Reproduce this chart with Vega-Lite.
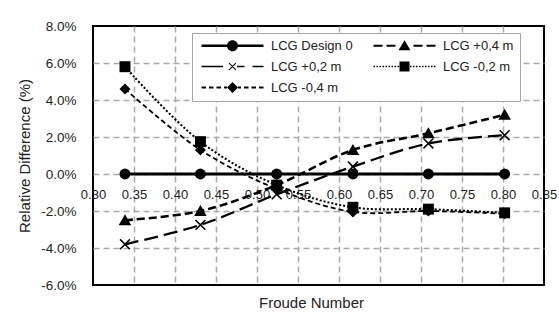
{
  "$schema": "https://vega.github.io/schema/vega-lite/v6.json",
  "width": 451,
  "height": 259,
  "autosize": "none",
  "padding": {"left": 93, "top": 26, "right": 15, "bottom": 35},
  "background": "white",
  "config": {
    "view": {"stroke": "black", "strokeWidth": 2},
    "font": "Liberation Sans"
  },
  "data": {
    "values": [
      {"fr": 0.339, "rd": 0, "series": "LCG Design 0"},
      {"fr": 0.431, "rd": 0, "series": "LCG Design 0"},
      {"fr": 0.524, "rd": 0, "series": "LCG Design 0"},
      {"fr": 0.617, "rd": 0, "series": "LCG Design 0"},
      {"fr": 0.709, "rd": 0, "series": "LCG Design 0"},
      {"fr": 0.802, "rd": 0, "series": "LCG Design 0"},
      {"fr": 0.339, "rd": -2.5, "series": "LCG +0,4 m"},
      {"fr": 0.431, "rd": -2.0, "series": "LCG +0,4 m"},
      {"fr": 0.524, "rd": -0.6, "series": "LCG +0,4 m"},
      {"fr": 0.617, "rd": 1.3, "series": "LCG +0,4 m"},
      {"fr": 0.709, "rd": 2.2, "series": "LCG +0,4 m"},
      {"fr": 0.802, "rd": 3.2, "series": "LCG +0,4 m"},
      {"fr": 0.339, "rd": -3.8, "series": "LCG +0,2 m"},
      {"fr": 0.431, "rd": -2.75, "series": "LCG +0,2 m"},
      {"fr": 0.524, "rd": -1.1, "series": "LCG +0,2 m"},
      {"fr": 0.617, "rd": 0.4, "series": "LCG +0,2 m"},
      {"fr": 0.709, "rd": 1.65, "series": "LCG +0,2 m"},
      {"fr": 0.802, "rd": 2.1, "series": "LCG +0,2 m"},
      {"fr": 0.339, "rd": 5.8, "series": "LCG -0,2 m"},
      {"fr": 0.431, "rd": 1.75, "series": "LCG -0,2 m"},
      {"fr": 0.524, "rd": -0.6, "series": "LCG -0,2 m"},
      {"fr": 0.617, "rd": -1.8, "series": "LCG -0,2 m"},
      {"fr": 0.709, "rd": -1.9, "series": "LCG -0,2 m"},
      {"fr": 0.802, "rd": -2.1, "series": "LCG -0,2 m"},
      {"fr": 0.339, "rd": 4.6, "series": "LCG -0,4 m"},
      {"fr": 0.431, "rd": 1.3, "series": "LCG -0,4 m"},
      {"fr": 0.524, "rd": -0.8, "series": "LCG -0,4 m"},
      {"fr": 0.617, "rd": -2.05, "series": "LCG -0,4 m"},
      {"fr": 0.709, "rd": -2.0, "series": "LCG -0,4 m"},
      {"fr": 0.802, "rd": -2.15, "series": "LCG -0,4 m"}
    ]
  },
  "encoding": {
    "x": {
      "field": "fr", "type": "quantitative",
      "scale": {"domain": [0.3, 0.85], "nice": false, "zero": false},
      "axis": {
        "values": [0.3, 0.35, 0.4, 0.45, 0.5, 0.55, 0.6, 0.65, 0.7, 0.75, 0.8, 0.85],
        "format": ".2f",
        "offset": -111,
        "domain": false,
        "ticks": false,
        "labelPadding": 14,
        "labelFlush": false,
        "labelFontSize": 13,
        "labelColor": "#222",
        "grid": true,
        "gridColor": "#aaaaaa",
        "gridDash": [6, 4],
        "gridWidth": 1.5,
        "gridOpacity": {"condition": {"test": "datum.value < 0.31 || datum.value > 0.84", "value": 0}, "value": 1},
        "title": "Froude Number",
        "titleFontSize": 15,
        "titleFontWeight": "normal",
        "titleColor": "#222",
        "titleX": 218,
        "titleY": 128,
        "titleBaseline": "middle"
      }
    },
    "y": {
      "field": "rd", "type": "quantitative",
      "scale": {"domain": [-6, 8], "nice": false},
      "axis": {
        "values": [-6, -4, -2, 0, 2, 4, 6, 8],
        "labelExpr": "(datum.value < 0 ? '-' : '') + format(abs(datum.value), '.1f') + '%'",
        "domain": false,
        "ticks": false,
        "labelPadding": 17,
        "labelFontSize": 13.5,
        "labelColor": "#222",
        "grid": true,
        "gridColor": "#aaaaaa",
        "gridDash": [6, 4],
        "gridWidth": 1.5,
        "gridOpacity": {"condition": {"test": "datum.value < -5.9 || datum.value > 7.9", "value": 0}, "value": 1},
        "title": "Relative Difference (%)",
        "titleFontSize": 15,
        "titleFontWeight": "normal",
        "titleColor": "#222",
        "titlePadding": 8
      }
    }
  },
  "layer": [
    {
      "mark": {"type": "line", "interpolate": "catmull-rom", "color": "black"},
      "encoding": {
        "detail": {"field": "series"},
        "strokeDash": {
          "field": "series", "type": "nominal",
          "scale": {
            "domain": ["LCG Design 0", "LCG +0,4 m", "LCG +0,2 m", "LCG -0,2 m", "LCG -0,4 m"],
            "range": [[1, 0], [8, 4], [14, 6], [2, 2], [5, 3]]
          },
          "legend": null
        },
        "strokeWidth": {
          "field": "series", "type": "nominal",
          "scale": {
            "domain": ["LCG Design 0", "LCG +0,4 m", "LCG +0,2 m", "LCG -0,2 m", "LCG -0,4 m"],
            "range": [2.8, 1.8, 1.6, 1.6, 1.8]
          },
          "legend": null
        }
      }
    },
    {
      "mark": {"type": "point", "filled": true, "color": "black", "opacity": 1, "size": 120},
      "encoding": {
        "shape": {
          "field": "series", "type": "nominal",
          "scale": {
            "domain": ["LCG Design 0", "LCG +0,4 m", "LCG +0,2 m", "LCG -0,2 m", "LCG -0,4 m"],
            "range": [
              "circle",
              "M0,-1.1L1.15,0.9L-1.15,0.9Z",
              "M-1,-0.8L-0.8,-1L1,0.8L0.8,1ZM-1,0.8L0.8,-1L1,-0.8L-0.8,1Z",
              "square",
              "diamond"
            ]
          },
          "legend": null
        }
      }
    },
    {
      "mark": {"type": "point", "filled": true, "color": "black", "opacity": 0, "size": 100},
      "encoding": {
        "shape": {
          "field": "series", "type": "nominal",
          "scale": {
            "domain": ["LCG Design 0", "LCG +0,2 m", "LCG -0,4 m", "LCG +0,4 m", "LCG -0,2 m"],
            "range": [
              "M-6.2,-0.25H-1V0.25H-6.2ZM1,-0.25H6.2V0.25H1ZM-1.1,0A1.1,1.1,0,1,1,1.1,0A1.1,1.1,0,1,1,-1.1,0Z",
              "M-6.2,-0.15H-1.9V0.15H-6.2ZM0.9,-0.15H2.4V0.15H0.9ZM4,-0.15H6.2V0.15H4ZM-0.75,-0.6L-0.6,-0.75L0.75,0.6L0.6,0.75ZM-0.75,0.6L0.6,-0.75L0.75,-0.6L-0.6,0.75Z",
              "M-6.2,-0.2H-5.3V0.2H-6.2ZM-4.7,-0.2H-3.8V0.2H-4.7ZM-3.2,-0.2H-2.3V0.2H-3.2ZM-1.7,-0.2H-1.1V0.2H-1.7ZM1.1,-0.2H1.7V0.2H1.1ZM2.3,-0.2H3.2V0.2H2.3ZM3.8,-0.2H4.7V0.2H3.8ZM5.3,-0.2H6.2V0.2H5.3ZM0,-1.1L1.1,0L0,1.1L-1.1,0Z",
              "M-6.2,-0.2H-4.4V0.2H-6.2ZM-3.6,-0.2H-1.8V0.2H-3.6ZM1.8,-0.2H3.6V0.2H1.8ZM4.4,-0.2H6.2V0.2H4.4ZM0,-1.1L1.2,0.9L-1.2,0.9Z",
              "M-6.2,-0.13H-5.9V0.13H-6.2ZM-5.6,-0.13H-5.3V0.13H-5.6ZM-5,-0.13H-4.7V0.13H-5ZM-4.4,-0.13H-4.1V0.13H-4.4ZM-3.8,-0.13H-3.5V0.13H-3.8ZM-3.2,-0.13H-2.9V0.13H-3.2ZM-2.6,-0.13H-2.3V0.13H-2.6ZM-2,-0.13H-1.7V0.13H-2ZM-1.4,-0.13H-1.1V0.13H-1.4ZM1.1,-0.13H1.4V0.13H1.1ZM1.7,-0.13H2V0.13H1.7ZM2.3,-0.13H2.6V0.13H2.3ZM2.9,-0.13H3.2V0.13H2.9ZM3.5,-0.13H3.8V0.13H3.5ZM4.1,-0.13H4.4V0.13H4.1ZM4.7,-0.13H5V0.13H4.7ZM5.3,-0.13H5.6V0.13H5.3ZM5.9,-0.13H6.2V0.13H5.9ZM-1,-1H1V1H-1Z"
            ]
          },
          "legend": {
            "title": null,
            "orient": "none",
            "legendX": 99,
            "legendY": 7,
            "columns": 2,
            "gridAlign": "all",
            "columnPadding": 17,
            "rowPadding": 7,
            "padding": 6,
            "strokeColor": "#a6a6a6",
            "fillColor": "white",
            "symbolSize": 100,
            "symbolOffset": 28,
            "labelOffset": 32,
            "labelFontSize": 13,
            "labelColor": "#222",
            "symbolFillColor": "black",
            "symbolStrokeWidth": 0,
            "symbolOpacity": 1,
            "encode": {
              "symbols": {"update": {"opacity": {"value": 1}, "fill": {"value": "black"}, "fillOpacity": {"value": 1}}}
            }
          }
        }
      }
    }
  ],
  "resolve": {"scale": {"shape": "independent"}, "legend": {"shape": "independent"}}
}
